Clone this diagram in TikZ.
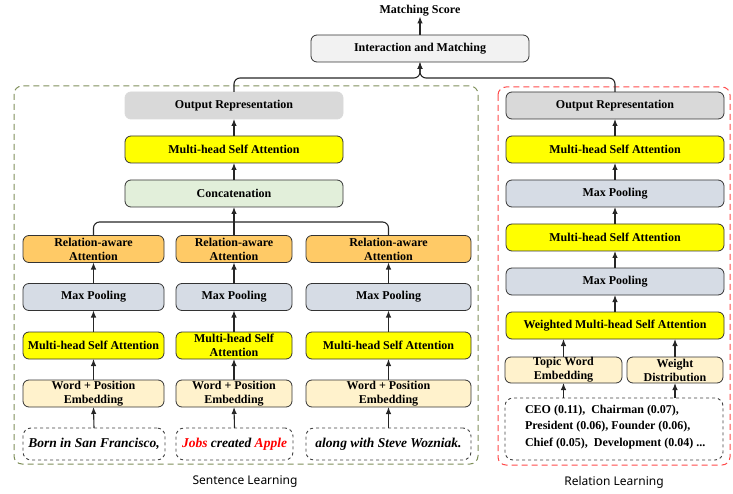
\documentclass[tikz,border=0pt]{standalone}
\usepackage{fontspec}
\setmainfont{Liberation Serif}
\newfontfamily\capfont{Noto Sans}
\usetikzlibrary{arrows.meta,positioning}
\definecolor{msayellow}{HTML}{FFFF00}
\definecolor{raorange}{HTML}{FFCA66}
\definecolor{poolgray}{HTML}{D6DCE5}
\definecolor{catgreen}{HTML}{E2EFDA}
\definecolor{embcream}{HTML}{FFF2CC}
\definecolor{outgray}{HTML}{D9D9D9}
\definecolor{matchgray}{HTML}{F2F2F2}
\definecolor{olivedash}{HTML}{7F8F5A}
\definecolor{reddash}{HTML}{FF4B4B}
\newcommand{\wordred}[1]{\textcolor{red}{#1}}
\tikzstyle{every node}=[font=\fontsize{12}{14}\selectfont\bfseries, align=center, inner sep=0, outer sep=0]
\tikzstyle{block}=[draw=black!80, line width=0.8pt, rounded corners=6pt, minimum height=27pt]
\tikzstyle{sentbox}=[draw=black!75, dashed, line width=0.9pt, rounded corners=8pt, minimum height=32pt, font=\fontsize{13.5}{16}\selectfont\bfseries\itshape]
\tikzstyle{line}=[line width=1.1pt, black!85]
\tikzstyle{arrow}=[line, -{Latex[length=7pt,width=5.5pt]}]

\begin{document}
\begin{tikzpicture}[x=1pt, y=-1pt]
\useasboundingbox (0,0) rectangle (733,494);

% outer groups
\draw[olivedash, dashed, line width=1pt, dash pattern=on 6pt off 4pt, rounded corners=8pt] (14,86) rectangle (478,464);
\draw[reddash, dashed, line width=1pt, dash pattern=on 6pt off 4pt, rounded corners=8pt] (498,87) rectangle (730,465);

% top
\node (score) at (420,11) {Matching Score};
\node[block, fill=matchgray, minimum width=218pt] (match) at (420,48.5) {Interaction and Matching};

% sentence learning, shared part
\node[block, fill=outgray, draw=outgray, minimum width=218pt] (outL) at (234,105.5) {Output Representation};
\node[block, fill=msayellow, minimum width=218pt] (msaL) at (234,149.5) {Multi-head Self Attention};
\node[block, fill=catgreen, minimum width=218pt] (concat) at (234,193.5) {Concatenation};

% sentence learning, three columns
\node[block, fill=raorange, minimum width=141pt] (ra1) at (93.5,249) {Relation-aware\\Attention};
\node[block, fill=raorange, minimum width=116pt] (ra2) at (234,249) {Relation-aware\\Attention};
\node[block, fill=raorange, minimum width=165pt] (ra3) at (388.5,249) {Relation-aware\\Attention};

\node[block, fill=poolgray, minimum width=141pt] (mp1) at (93.5,297) {Max Pooling};
\node[block, fill=poolgray, minimum width=116pt] (mp2) at (234,297) {Max Pooling};
\node[block, fill=poolgray, minimum width=165pt] (mp3) at (388.5,297) {Max Pooling};

\node[block, fill=msayellow, minimum width=141pt] (msa1) at (93.5,345.5) {Multi-head Self Attention};
\node[block, fill=msayellow, minimum width=116pt] (msa2) at (234,345.5) {Multi-head Self\\Attention};
\node[block, fill=msayellow, minimum width=165pt] (msa3) at (388.5,345.5) {Multi-head Self Attention};

\node[block, fill=embcream, minimum width=141pt] (emb1) at (93.5,393.5) {Word + Position\\Embedding};
\node[block, fill=embcream, minimum width=116pt] (emb2) at (234,393.5) {Word + Position\\Embedding};
\node[block, fill=embcream, minimum width=165pt] (emb3) at (388.5,393.5) {Word + Position\\Embedding};

\node[sentbox, minimum width=142pt] (sent1) at (94,444) {Born in San Francisco,};
\node[sentbox, minimum width=117pt] (sent2) at (234.5,444) {\wordred{Jobs} created \wordred{Apple}};
\node[sentbox, minimum width=165pt] (sent3) at (388.5,444) {along with Steve Wozniak.};

% relation learning
\node[block, fill=outgray, minimum width=218pt] (outR) at (615,105.5) {Output Representation};
\node[block, fill=msayellow, minimum width=218pt] (msaR) at (615,149.5) {Multi-head Self Attention};
\node[block, fill=poolgray, minimum width=218pt] (mpR) at (615,193.5) {Max Pooling};
\node[block, fill=msayellow, minimum width=218pt] (msaRb) at (615,237.5) {Multi-head Self Attention};
\node[block, fill=poolgray, minimum width=218pt] (mpRb) at (615,281.5) {Max Pooling};
\node[block, fill=msayellow, minimum width=218pt] (wmsa) at (615,325.5) {Weighted Multi-head Self Attention};
\node[block, fill=embcream, minimum width=117pt, minimum height=26pt] (twe) at (563.5,370) {Topic Word\\Embedding};
\node[block, fill=embcream, minimum width=96pt, minimum height=26pt] (wdist) at (675,370) {Weight\\Distribution};
\node[sentbox, minimum width=218pt, minimum height=62pt] (topics) at (614,429) {};
\node[anchor=west] (t1) at (525,411) {CEO (0.11),\ \ Chairman (0.07),};
\node[anchor=west] (t2) at (525,426.5) {President (0.06), Founder (0.06),};
\node[anchor=west] (t3) at (525,444) {Chief (0.05),\ \ Development (0.04) ...};

% captions
\node[font=\capfont\fontsize{12}{14}\selectfont] (capS) at (245,482) {Sentence Learning};
\node[font=\capfont\fontsize{12}{14}\selectfont] (capR) at (614,482) {Relation Learning};

% joins
\coordinate (mjoin) at (420,78);
\coordinate (cjoin) at (234,222);

% arrows, top
\draw[arrow] (match.north) -- (score.south);
\draw[arrow, rounded corners=6pt] (outL.north) |- (mjoin) -- (match.south);
\draw[arrow, rounded corners=6pt] (outR.north) |- (mjoin) -- (match.south);

% arrows, sentence learning
\draw[arrow] (msaL.north) -- (outL.south);
\draw[arrow] (concat.north) -- (msaL.south);
\draw[line, rounded corners=6pt] (ra1.north) |- (cjoin);
\draw[line, rounded corners=6pt] (ra3.north) |- (cjoin);
\draw[arrow] (ra2.north) -- (concat.south);
\foreach \i in {1,2,3}
{
\draw[arrow] (mp\i.north) -- (ra\i.south);
\draw[arrow] (msa\i.north) -- (mp\i.south);
\draw[arrow] (emb\i.north) -- (msa\i.south);
\draw[arrow] (sent\i.north) -- (emb\i.south);
}

% arrows, relation learning
\draw[arrow] (msaR.north) -- (outR.south);
\draw[arrow] (mpR.north) -- (msaR.south);
\draw[arrow] (msaRb.north) -- (mpR.south);
\draw[arrow] (mpRb.north) -- (msaRb.south);
\draw[arrow] (wmsa.north) -- (mpRb.south);
\draw[arrow] (twe.north) -- (twe.north |- wmsa.south);
\draw[arrow] (wdist.north) -- (wdist.north |- wmsa.south);
\draw[arrow] (topics.north -| twe.south) -- (twe.south);
\draw[arrow] (topics.north -| wdist.south) -- (wdist.south);
\end{tikzpicture}
\end{document}
